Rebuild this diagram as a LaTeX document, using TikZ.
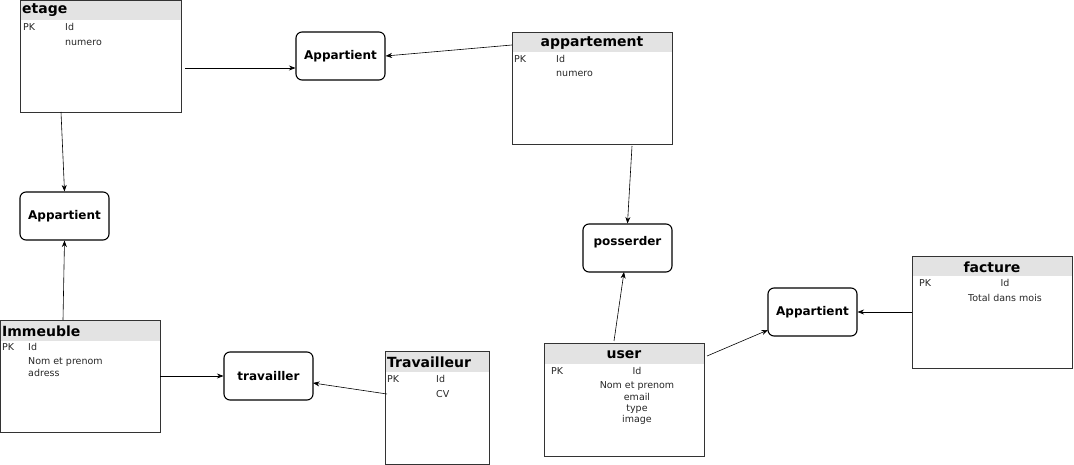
\documentclass[tikz,border=0pt]{standalone}
\usepackage{fontspec}
\setmainfont{DejaVu Sans}
\usetikzlibrary{arrows.meta}
\begin{document}
\begin{tikzpicture}[x=1pt,y=-1pt,
  tbl/.style={draw=black!80,line width=0.8pt,anchor=north west,inner sep=0pt,minimum width=#1},
  hdr/.style={fill=black!11,draw=none},
  ttl/.style={font=\fontsize{14}{16}\selectfont\bfseries,inner sep=0pt},
  fld/.style={font=\fontsize{9.5}{10}\selectfont,inner sep=0pt,text=black!85},
  rel/.style={draw,rounded corners=6pt,line width=1.1pt,minimum width=89pt,minimum height=48pt,inner sep=0pt,font=\fontsize{12}{14}\selectfont\bfseries},
  arr/.style={-{Stealth[length=6.5pt,width=5pt]},line width=0.6pt}]
\useasboundingbox (0,0) rectangle (1074,465);

% ---------- tables ----------
% etage
\fill[hdr] (20,0) rectangle (181,20);
\node[tbl=161pt,minimum height=112pt] (etage) at (20,0) {};
\node[ttl,anchor=west] (etageT) at (22,10.5) {etage};
\node[fld,anchor=west] (etPK) at (23,27) {PK};
\node[fld,anchor=west] (etId) at (65,27) {Id};
\node[fld,anchor=west] (etNum) at (65,43) {numero};

% appartement
\fill[hdr] (512,32) rectangle (672,52);
\node[tbl=160pt,minimum height=112pt] (appart) at (512,32) {};
\node[ttl] (appartT) at (592,43.5) {appartement};
\node[fld,anchor=west] (apPK) at (514,59) {PK};
\node[fld,anchor=west] (apId) at (556,59) {Id};
\node[fld,anchor=west] (apNum) at (556,74) {numero};

% Immeuble
\fill[hdr] (0,320) rectangle (160,341);
\node[tbl=160pt,minimum height=112pt] (imm) at (0,320) {};
\node[ttl,anchor=west] (immT) at (2,331.5) {Immeuble};
\node[fld,anchor=west] (imPK) at (2,347) {PK};
\node[fld,anchor=west] (imId) at (28,347) {Id};
\node[fld,anchor=west] (imNom) at (28,362) {Nom et prenom};
\node[fld,anchor=west] (imAdr) at (28,373) {adress};

% Travailleur
\fill[hdr] (385,351) rectangle (489,372);
\node[tbl=104pt,minimum height=113pt] (trav) at (385,351) {};
\node[ttl,anchor=west] (travT) at (387,362.5) {Travailleur};
\node[fld,anchor=west] (trPK) at (387,379) {PK};
\node[fld,anchor=west] (trId) at (436,379) {Id};
\node[fld,anchor=west] (trCV) at (436,394) {CV};

% user
\fill[hdr] (544,343) rectangle (704,364);
\node[tbl=160pt,minimum height=113pt] (user) at (544,343) {};
\node[ttl] (userT) at (624,354.5) {user};
\node[fld,anchor=west] (usPK) at (551,371) {PK};
\node[fld] (usId) at (637,371) {Id};
\node[fld] (usNom) at (637,386) {Nom et prenom};
\node[fld] (usEm) at (637,397) {email};
\node[fld] (usTy) at (637,409) {type};
\node[fld] (usIm) at (637,420) {image};

% facture
\fill[hdr] (912,256) rectangle (1072,276);
\node[tbl=160pt,minimum height=112pt] (fact) at (912,256) {};
\node[ttl] (factT) at (992,267) {facture};
\node[fld,anchor=west] (faPK) at (919,283) {PK};
\node[fld] (faId) at (1005,283) {Id};
\node[fld] (faTot) at (1005,298) {Total dans mois};

% ---------- relationships ----------
\node[rel] (app1) at (340.5,56) {Appartient};
\node[rel] (app2) at (64.5,216) {Appartient};
\node[rel,text depth=14pt] (poss) at (627.5,248) {posserder};
\node[rel] (travl) at (268.5,376) {travailler};
\node[rel] (app3) at (812.5,312) {Appartient};

% ---------- connectors ----------
\coordinate (e1) at (185,68);
\coordinate (e2) at (61,112);
\coordinate (a1) at (512,45);
\coordinate (a2) at (632,146);
\coordinate (i1) at (63,320);
\coordinate (i2) at (160,376);
\coordinate (t1) at (387,394);
\coordinate (u1) at (614,341);
\coordinate (u2) at (707,356);
\coordinate (f1) at (912,312);

\draw[arr] (e1) -- (e1 -| app1.west);
\draw[arr] (a1) -- (app1.east);
\draw[arr] (e2) -- (app2.north);
\draw[arr] (i1) -- (app2.south);
\draw[arr] (i2) -- (travl.west);
\draw[arr] (t1) -- (313,383);
\draw[arr] (a2) -- (poss.north);
\draw[arr] (u1) -- (624,272);
\draw[arr] (u2) -- (768,330);
\draw[arr] (f1) -- (app3.east);
\end{tikzpicture}
\end{document}
